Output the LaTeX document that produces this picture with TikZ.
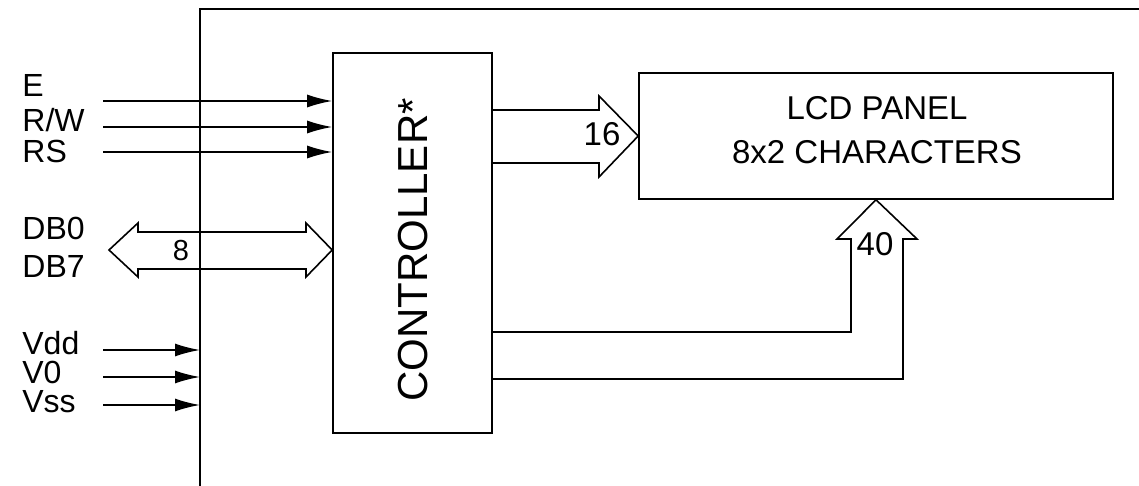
\documentclass[tikz,border=0pt]{standalone}
\usepackage{fontspec}
\setmainfont{Liberation Sans}
\usetikzlibrary{arrows.meta,positioning,calc}

\begin{document}
\begin{tikzpicture}[x=0.5pt, y=-0.5pt,
  block/.style={rectangle, draw, line width=0.8pt, inner sep=0pt},
  sig/.style={-{Latex[length=12.5pt,width=6.5pt]}, line width=0.8pt},
  bus/.style={line width=0.8pt, line join=miter},
  pin/.style={anchor=base west, inner sep=0pt, font=\fontsize{16}{19}\selectfont},
  buslabel/.style={inner sep=0pt, font=\fontsize{16.5}{19}\selectfont}
]
  \useasboundingbox (0,0) rectangle (1139,486);

  % module outline
  \coordinate (frame) at (200,9);
  \draw[line width=0.8pt] (frame |- 0,486) -- (frame) -- (1139,9);

  % blocks
  \node[block, minimum width=79.5pt, minimum height=190pt] (ctrl) at (412.5,243) {};
  \node[rotate=90, inner sep=0pt, font=\fontsize{21}{24}\selectfont] (ctrltext) at (413,250) {CONTROLLER*};
  \node[block, minimum width=237pt, minimum height=63pt] (lcd) at (876,136) {};
  \node[align=center, inner sep=0pt, font=\fontsize{16.5}{22}\selectfont] (lcdtext) at (877,130) {LCD PANEL\\8x2 CHARACTERS};

  % control inputs
  \node[pin] (labE) at (22,97) {E};
  \node[pin] (labRW) at (22,132) {R/W};
  \node[pin] (labRS) at (22,163) {RS};
  \coordinate (inE) at (103,101);
  \coordinate (inRW) at (103,127);
  \coordinate (inRS) at (103,152);
  \draw[sig] (inE) -- (ctrl.west |- inE);
  \draw[sig] (inRW) -- (ctrl.west |- inRW);
  \draw[sig] (inRS) -- (ctrl.west |- inRS);

  % data bus
  \node[pin] (labDBa) at (22,240) {DB0};
  \node[pin] (labDBb) at (22,278) {DB7};
  \coordinate (dbtip) at (109,250);
  \draw[bus] (dbtip) -- (138,223) -- (138,232) -- (306,232) -- (306,223) -- (ctrl.west |- dbtip)
    -- (306,277) -- (306,269) -- (138,269) -- (138,277) -- cycle;
  \node[buslabel, font=\fontsize{14.5}{17}\selectfont] (n8) at (181,251) {8};

  % supply
  \node[pin] (labVdd) at (22,354) {Vdd};
  \node[pin] (labVo) at (22,383) {V0};
  \node[pin] (labVss) at (22,412) {Vss};
  \coordinate (inVdd) at (103,350);
  \coordinate (inVo) at (103,377);
  \coordinate (inVss) at (103,405);
  \draw[sig] (inVdd) -- (frame |- inVdd);
  \draw[sig] (inVo) -- (frame |- inVo);
  \draw[sig] (inVss) -- (frame |- inVss);

  % controller to panel
  \draw[bus] (ctrl.east |- 0,110) -- (599,110) -- (599,96) -- (lcd.west) -- (599,177) -- (599,163)
    -- (ctrl.east |- 0,163);
  \node[buslabel] (n16) at (602,134) {16};
  \draw[bus] (ctrl.east |- 0,332) -- (851,332) -- (851,239) -- (837,239) -- (lcd.south) -- (917,239)
    -- (903,239) -- (903,379) -- (ctrl.east |- 0,379);
  \node[buslabel] (n40) at (875,244) {40};
\end{tikzpicture}
\end{document}
